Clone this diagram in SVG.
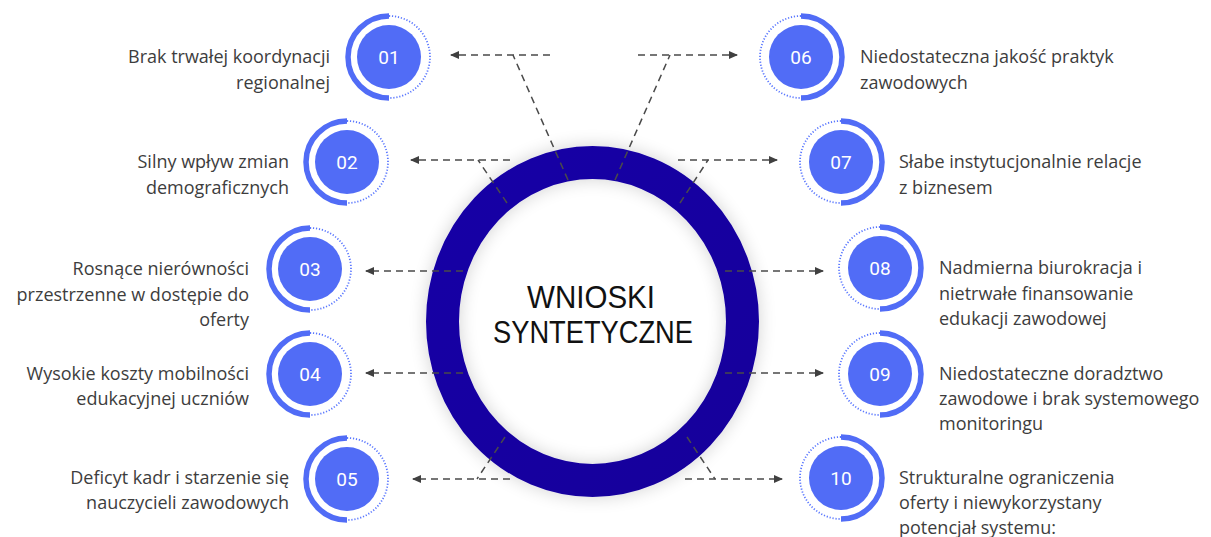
<svg xmlns="http://www.w3.org/2000/svg" width="1211" height="537" viewBox="0 0 1211 537">
<defs>
<style>
.lbl{font-family:"Open Sans","Noto Sans",sans-serif;font-size:18px;fill:#3d3d3d}
.num{font-family:Roboto,"Liberation Sans",sans-serif;font-size:19px;fill:#ffffff;text-anchor:middle}
.disc{fill:#516cf6}
.solid{fill:none;stroke:#516cf6;stroke-width:5.5}
.dot{fill:none;stroke:#5b78ff;stroke-width:1.8;stroke-dasharray:1.2 1.8}
.con{fill:none;stroke:#4a4a4a;stroke-width:1.5;stroke-dasharray:7 5}
.arr{marker-end:url(#ah)}
.title{font-family:"Liberation Sans",Arial,sans-serif;font-size:32px;fill:#111111;text-anchor:middle}
</style>
<marker id="ah" markerWidth="10" markerHeight="10" refX="8" refY="5" orient="auto" markerUnits="userSpaceOnUse">
<path d="M0,1 L9,5 L0,9 Z" fill="#404040"/>
</marker>
<filter id="sh" x="-20%" y="-20%" width="140%" height="140%">
<feGaussianBlur in="SourceAlpha" stdDeviation="9"/>
<feComponentTransfer><feFuncA type="linear" slope="0.18"/></feComponentTransfer>
<feMerge><feMergeNode/><feMergeNode in="SourceGraphic"/></feMerge>
</filter>
<linearGradient id="rg" x1="0" y1="0" x2="1" y2="1">
<stop offset="0" stop-color="#1603a6"/>
<stop offset="1" stop-color="#14009b"/>
</linearGradient>
</defs>
<rect width="1211" height="537" fill="#ffffff"/>

<g id="center">
<ellipse cx="592.5" cy="321.5" rx="150" ry="159" fill="none" stroke="url(#rg)" stroke-width="33" filter="url(#sh)"/>
<text class="title" x="591" y="308" textLength="128" lengthAdjust="spacingAndGlyphs">WNIOSKI</text>
<text class="title" x="593" y="343" textLength="200" lengthAdjust="spacingAndGlyphs">SYNTETYCZNE</text>
</g>

<g id="connectors">
<path class="con arr" d="M550,55 L451,55"/>
<path class="con" d="M568,180 L513,55"/>
<path class="con arr" d="M638,55 L737,55"/>
<path class="con" d="M615,180 L670,55"/>
<path class="con arr" d="M510,160 L411,160"/>
<path class="con" d="M507,203 L478,160"/>
<path class="con arr" d="M678,160 L777,160"/>
<path class="con" d="M680,203 L708,160"/>
<path class="con arr" d="M463,271 L366,271"/>
<path class="con arr" d="M463,373 L366,373"/>
<path class="con arr" d="M725,271 L823,271"/>
<path class="con arr" d="M725,373 L823,373"/>
<path class="con arr" d="M510,479 L413,479"/>
<path class="con" d="M505,437 L477,479"/>
<path class="con arr" d="M685,479 L782,479"/>
<path class="con" d="M687,437 L715,479"/>
</g>

<g id="n01">
<path class="solid" d="M389,16 A41,41 0 0 0 389,98"/>
<path class="dot" d="M389,16 A41,41 0 0 1 389,98"/>
<circle class="disc" cx="389" cy="57" r="32"/>
<text class="num" x="389" y="64">01</text>
<text class="lbl" text-anchor="end" x="330" y="63">Brak trwałej koordynacji</text>
<text class="lbl" text-anchor="end" x="330" y="89">regionalnej</text>
</g>
<g id="n02">
<path class="solid" d="M347,121 A41,41 0 0 0 347,203"/>
<path class="dot" d="M347,121 A41,41 0 0 1 347,203"/>
<circle class="disc" cx="347" cy="162" r="32"/>
<text class="num" x="347" y="169">02</text>
<text class="lbl" text-anchor="end" x="289" y="168">Silny wpływ zmian</text>
<text class="lbl" text-anchor="end" x="289" y="194">demograficznych</text>
</g>
<g id="n03">
<path class="solid" d="M310,228 A41,41 0 0 0 310,310"/>
<path class="dot" d="M310,228 A41,41 0 0 1 310,310"/>
<circle class="disc" cx="310" cy="269" r="32"/>
<text class="num" x="310" y="276">03</text>
<text class="lbl" text-anchor="end" x="249" y="275">Rosnące nierówności</text>
<text class="lbl" text-anchor="end" x="249" y="301">przestrzenne w dostępie do</text>
<text class="lbl" text-anchor="end" x="249" y="326">oferty</text>
</g>
<g id="n04">
<path class="solid" d="M310,333 A41,41 0 0 0 310,415"/>
<path class="dot" d="M310,333 A41,41 0 0 1 310,415"/>
<circle class="disc" cx="310" cy="374" r="32"/>
<text class="num" x="310" y="381">04</text>
<text class="lbl" text-anchor="end" x="249" y="380">Wysokie koszty mobilności</text>
<text class="lbl" text-anchor="end" x="249" y="405">edukacyjnej uczniów</text>
</g>
<g id="n05">
<path class="solid" d="M347,438 A41,41 0 0 0 347,520"/>
<path class="dot" d="M347,438 A41,41 0 0 1 347,520"/>
<circle class="disc" cx="347" cy="479" r="32"/>
<text class="num" x="347" y="486">05</text>
<text class="lbl" text-anchor="end" x="289" y="484">Deficyt kadr i starzenie się</text>
<text class="lbl" text-anchor="end" x="289" y="509">nauczycieli zawodowych</text>
</g>
<g id="n06">
<path class="solid" d="M801,16 A41,41 0 0 1 801,98"/>
<path class="dot" d="M801,16 A41,41 0 0 0 801,98"/>
<circle class="disc" cx="801" cy="57" r="32"/>
<text class="num" x="801" y="64">06</text>
<text class="lbl" x="860" y="63">Niedostateczna jakość praktyk</text>
<text class="lbl" x="860" y="89">zawodowych</text>
</g>
<g id="n07">
<path class="solid" d="M841,121 A41,41 0 0 1 841,203"/>
<path class="dot" d="M841,121 A41,41 0 0 0 841,203"/>
<circle class="disc" cx="841" cy="162" r="32"/>
<text class="num" x="841" y="169">07</text>
<text class="lbl" x="899" y="168">Słabe instytucjonalnie relacje</text>
<text class="lbl" x="899" y="194">z biznesem</text>
</g>
<g id="n08">
<path class="solid" d="M880,227 A41,41 0 0 1 880,309"/>
<path class="dot" d="M880,227 A41,41 0 0 0 880,309"/>
<circle class="disc" cx="880" cy="268" r="32"/>
<text class="num" x="880" y="275">08</text>
<text class="lbl" x="939" y="274">Nadmierna biurokracja i</text>
<text class="lbl" x="939" y="300">nietrwałe finansowanie</text>
<text class="lbl" x="939" y="325">edukacji zawodowej</text>
</g>
<g id="n09">
<path class="solid" d="M880,333 A41,41 0 0 1 880,415"/>
<path class="dot" d="M880,333 A41,41 0 0 0 880,415"/>
<circle class="disc" cx="880" cy="374" r="32"/>
<text class="num" x="880" y="381">09</text>
<text class="lbl" x="939" y="380">Niedostateczne doradztwo</text>
<text class="lbl" x="939" y="405">zawodowe i brak systemowego</text>
<text class="lbl" x="939" y="430">monitoringu</text>
</g>
<g id="n10">
<path class="solid" d="M841,437 A41,41 0 0 1 841,519"/>
<path class="dot" d="M841,437 A41,41 0 0 0 841,519"/>
<circle class="disc" cx="841" cy="478" r="32"/>
<text class="num" x="841" y="485">10</text>
<text class="lbl" x="899" y="484">Strukturalne ograniczenia</text>
<text class="lbl" x="899" y="509">oferty i niewykorzystany</text>
<text class="lbl" x="899" y="534">potencjał systemu:</text>
</g>
</svg>
